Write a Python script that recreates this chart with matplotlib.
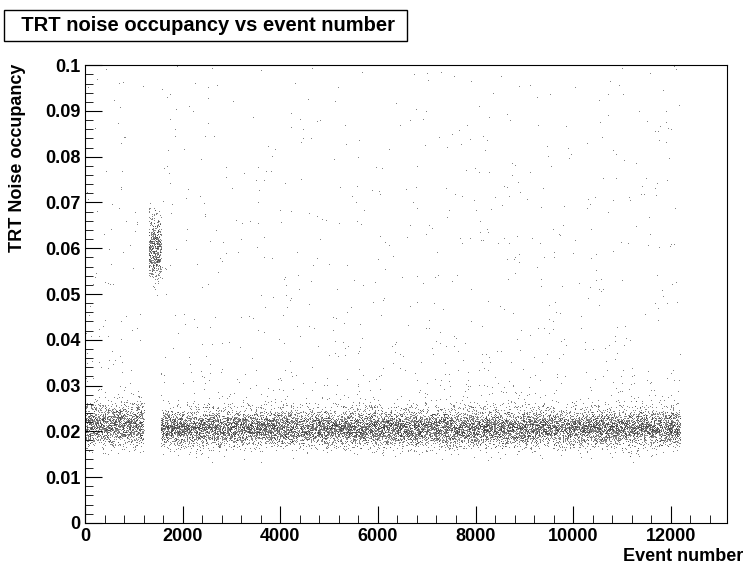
import numpy as np
import matplotlib
matplotlib.use("Agg")
import matplotlib.pyplot as plt
from matplotlib.ticker import MultipleLocator

plt.rcParams['font.family'] = ['Liberation Sans', 'DejaVu Sans']

# Band segments: x start, x end, centre, spread, points
seg_x0 = [0, 1550, 1300]
seg_x1 = [1200, 12200, 1550]
seg_center = [0.0212, 0.0205, 0.0600]
seg_spread = [0.0022, 0.0020, 0.0035]
seg_count = [1500, 13000, 500]
# sparse outliers above the band
out_count = 1000
out_ymin, out_ymax = 0.025, 0.1
xtick_vals = [0, 2000, 4000, 6000, 8000, 10000, 12000]
ytick_labels = ['0', '0.01', '0.02', '0.03', '0.04', '0.05', '0.06', '0.07', '0.08', '0.09', '0.1']

rng = np.random.default_rng(3)
xs, ys = [], []
for a, b, c, s, n in zip(seg_x0, seg_x1, seg_center, seg_spread, seg_count):
    xs.append(rng.uniform(a, b, n)); ys.append(rng.normal(c, s, n))
ox = rng.uniform(0, 12200, out_count)
oy = out_ymin + (out_ymax - out_ymin) * rng.random(out_count) ** 2.2
keep = ~((ox > 1200) & (ox < 1550))
xs.append(ox[keep]); ys.append(oy[keep])
x = np.concatenate(xs); y = np.concatenate(ys)

fig = plt.figure(figsize=(7.47, 5.72), dpi=100)
ax = fig.add_axes([0.114, 0.086, 0.859, 0.800])
ax.plot(x, y, ',', color='#333333', alpha=0.6)
ax.set_xlim(0, 13150)
ax.set_ylim(0, 0.1)
ax.set_xticks(xtick_vals)
ax.set_yticks(np.arange(0, 0.1001, 0.01))
ax.set_xticklabels([str(v) for v in xtick_vals], fontweight='bold', fontsize=13)
ax.set_yticklabels(ytick_labels, fontweight='bold', fontsize=13)
ax.xaxis.set_minor_locator(MultipleLocator(400))
ax.yaxis.set_minor_locator(MultipleLocator(0.002))
ax.tick_params(which='both', direction='in', top=False, right=False)
ax.tick_params(which='major', length=12)
ax.tick_params(which='minor', length=6)
fig.text(0.995, 0.012, 'Event number', ha='right', va='bottom', fontsize=13, fontweight='bold')
fig.text(0.012, 0.888, 'TRT Noise occupancy', ha='left', va='top', rotation=90, fontsize=13, fontweight='bold')
fig.text(0.014, 0.955, '  TRT noise occupancy vs event number ', fontsize=14.5, fontweight='bold',
         va='center', ha='left',
         bbox=dict(boxstyle='square,pad=0.3', fc='white', ec='black', lw=1))
fig.savefig('out.png', dpi=100)
